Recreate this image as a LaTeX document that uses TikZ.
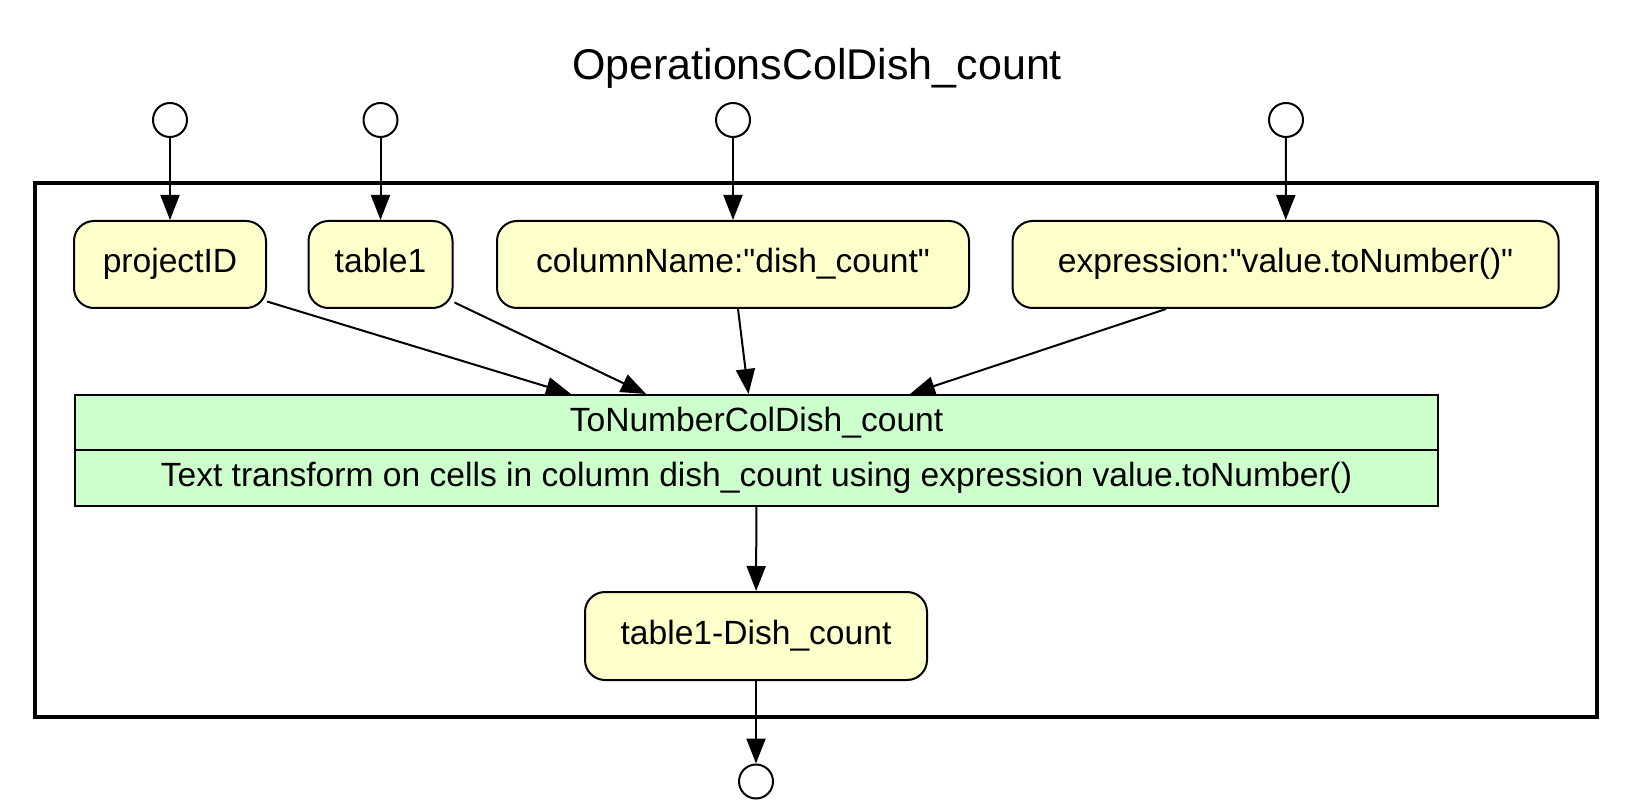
\documentclass[tikz,border=0pt]{standalone}
\usepackage{fontspec}
\setmainfont{Liberation Sans}
\usepackage{tikz}
\usetikzlibrary{arrows.meta,positioning,calc}
\usepackage{xcolor}
\definecolor{Cream}{HTML}{FFFFCC}
\definecolor{Mint}{HTML}{CCFFCC}
\newcommand{\nodefont}{\fontsize{33.6}{40}\selectfont}
\tikzset{
  portdot/.style={circle, draw, line width=2pt, fill=white, minimum size=34pt, inner sep=0pt},
  databox/.style={draw, line width=2pt, rounded corners=20pt, fill=Cream,
    minimum height=87pt, inner sep=0pt, font=\nodefont,
    text height=24pt, text depth=7pt},
  opbox/.style={draw, line width=2pt, fill=Mint, inner sep=0pt},
  optext/.style={font=\nodefont, inner sep=0pt, text height=24pt, text depth=7pt},
  flow/.style={-{Triangle[length=25pt,width=19pt]}, line width=2pt},
}

\begin{document}
\begin{tikzpicture}[x=1pt, y=1pt]
  \useasboundingbox (0,0) rectangle (1632,804);

  \node[anchor=base, font=\fontsize{43}{52}\selectfont] (title) at (817,724)
    {OperationsColDish\_count};

  % cluster frame
  \draw[line width=4.5pt] (35,621) rectangle (1597,87);

  % inputs
  \node[portdot] (inA) at (170,684) {};
  \node[portdot] (inB) at (380.5,684) {};
  \node[portdot] (inC) at (733,684) {};
  \node[portdot] (inD) at (1286,684) {};

  \node[databox, minimum width=192pt] (projectID) at (170,539.5) {projectID};
  \node[databox, minimum width=144pt] (table1) at (380.5,539.5) {table1};
  \node[databox, minimum width=472pt] (colname) at (733,539.5)
    {columnName:\textquotedbl dish\_count\textquotedbl};
  \node[databox, minimum width=546pt] (expr) at (1285.6,539.5)
    {expression:\textquotedbl value.toNumber()\textquotedbl};

  % operation
  \node[opbox, minimum width=1363pt, minimum height=111pt] (op) at (756.5,353.5) {};
  \draw[line width=2pt] (op.west) -- (op.east);
  \node[optext] (opname) at ($(op.center)+(0,27.75)$) {ToNumberColDish\_count};
  \node[optext] (opdesc) at ($(op.center)+(0,-27.75)$)
    {Text transform on cells in column dish\_count using expression value.toNumber()};

  \node[databox, minimum width=342pt, minimum height=88pt] (result) at (756,168)
    {table1-Dish\_count};
  \node[portdot] (outA) at (756,22.5) {};

  \draw[flow] (inA) -- (projectID);
  \draw[flow] (inB) -- (table1);
  \draw[flow] (inC) -- (colname);
  \draw[flow] (inD) -- (expr);

  \draw[flow] ($(projectID.east)+(0,-37)$) -- ($(op.north west)+(497,0)$);
  \draw[flow] ($(table1.east)+(1,-38)$) -- ($(op.north west)+(572,0)$);
  \draw[flow] ($(colname.south)+(5,0)$) -- ($(op.north west)+(674.5,0)$);
  \draw[flow] ($(expr.south)+(-119.6,0)$) -- ($(op.north west)+(836,0)$);

  \draw[flow] (op) -- (result);
  \draw[flow] (result) -- (outA);
\end{tikzpicture}
\end{document}
